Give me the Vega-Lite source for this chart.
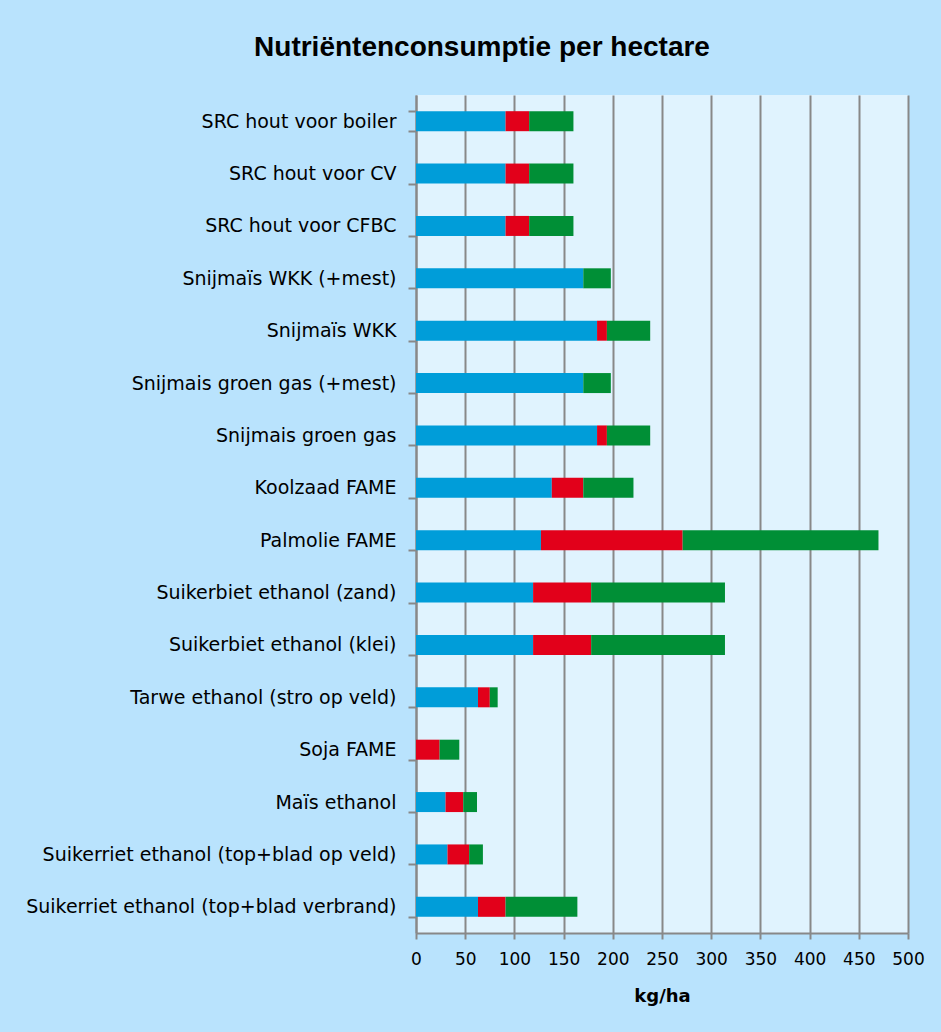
{
  "$schema": "https://vega.github.io/schema/vega-lite/v6.json",
  "width": 492,
  "height": 838,
  "autosize": {"type": "none"},
  "padding": {"left": 416, "top": 95, "right": 33, "bottom": 99},
  "background": "#b9e3fd",
  "title": {
    "text": "Nutriëntenconsumptie per hectare",
    "font": "Liberation Sans",
    "fontSize": 28,
    "fontWeight": "bold",
    "color": "#000000",
    "anchor": "middle",
    "frame": "group",
    "dx": -180,
    "offset": 2,
    "baseline": "alphabetic"
  },
  "config": {
    "view": {"fill": "#e0f3fe", "stroke": null}
  },
  "data": {
    "values": [
      {"crop": "SRC hout voor boiler", "N": 91, "P": 24, "K": 45},
      {"crop": "SRC hout voor CV", "N": 91, "P": 24, "K": 45},
      {"crop": "SRC hout voor CFBC", "N": 91, "P": 24, "K": 45},
      {"crop": "Snijmaïs WKK (+mest)", "N": 170, "P": 0, "K": 28},
      {"crop": "Snijmaïs WKK", "N": 184, "P": 10, "K": 44},
      {"crop": "Snijmais groen gas (+mest)", "N": 170, "P": 0, "K": 28},
      {"crop": "Snijmais groen gas", "N": 184, "P": 10, "K": 44},
      {"crop": "Koolzaad FAME", "N": 138, "P": 32, "K": 51},
      {"crop": "Palmolie FAME", "N": 127, "P": 144, "K": 199},
      {"crop": "Suikerbiet ethanol (zand)", "N": 119, "P": 59, "K": 136},
      {"crop": "Suikerbiet ethanol (klei)", "N": 119, "P": 59, "K": 136},
      {"crop": "Tarwe ethanol (stro op veld)", "N": 63, "P": 12, "K": 8},
      {"crop": "Soja FAME", "N": 0, "P": 24, "K": 20},
      {"crop": "Maïs ethanol", "N": 30, "P": 18, "K": 14},
      {"crop": "Suikerriet ethanol (top+blad op veld)", "N": 32, "P": 22, "K": 14},
      {"crop": "Suikerriet ethanol (top+blad verbrand)", "N": 63, "P": 28, "K": 73}
    ]
  },
  "transform": [
    {"fold": ["N", "P", "K"], "as": ["nutrient", "value"]},
    {"window": [{"op": "row_number", "as": "idx"}], "groupby": ["crop"]}
  ],
  "mark": {"type": "bar"},
  "encoding": {
    "y": {
      "field": "crop",
      "type": "nominal",
      "sort": null,
      "scale": {"paddingInner": 0.618, "paddingOuter": 0.309},
      "axis": {
        "title": null,
        "grid": false,
        "domainColor": "#888888",
        "domainWidth": 2,
        "tickColor": "#888888",
        "tickWidth": 2,
        "tickSize": 8,
        "tickBand": "extent",
        "labelFont": "DejaVu Sans",
        "labelFontSize": 19,
        "labelColor": "#000000",
        "labelPadding": 12,
        "labelLimit": 0
      }
    },
    "x": {
      "field": "value",
      "type": "quantitative",
      "stack": "zero",
      "scale": {"domain": [0, 500], "nice": false},
      "axis": {
        "values": [0, 50, 100, 150, 200, 250, 300, 350, 400, 450, 500],
        "title": "kg/ha",
        "grid": true,
        "gridColor": "#888888",
        "gridWidth": 2,
        "domainColor": "#888888",
        "domainWidth": 2,
        "tickColor": "#888888",
        "tickWidth": 2,
        "tickSize": 6,
        "labelFont": "DejaVu Sans",
        "labelFontSize": 17,
        "labelColor": "#000000",
        "labelPadding": 12,
        "labelFlush": false,
        "titleFont": "DejaVu Sans",
        "titleFontSize": 18,
        "titleFontWeight": "bold",
        "titleColor": "#000000",
        "titlePadding": 20
      }
    },
    "order": {"field": "idx", "type": "quantitative", "sort": "ascending"},
    "color": {
      "field": "nutrient",
      "type": "nominal",
      "scale": {"domain": ["N", "P", "K"], "range": ["#009dd9", "#e2001a", "#008f36"]},
      "legend": null
    }
  }
}
